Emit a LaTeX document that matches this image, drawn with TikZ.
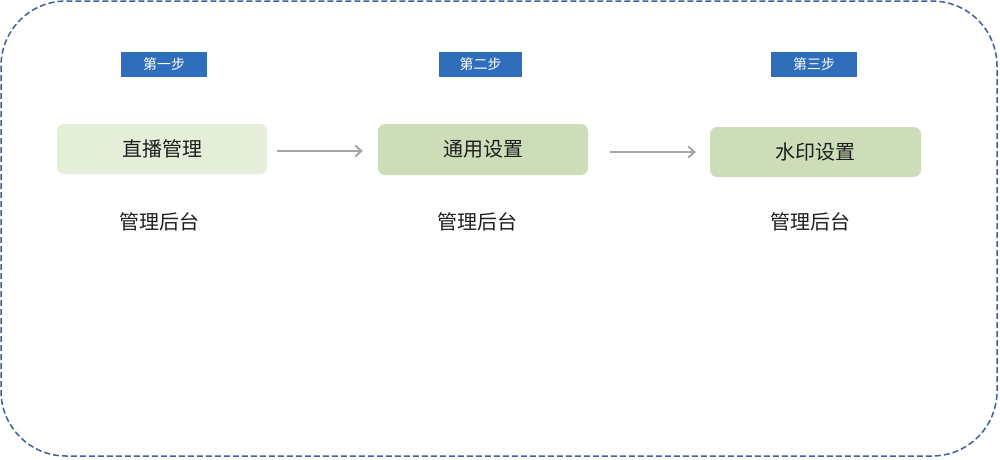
\documentclass[tikz,border=0pt]{standalone}
\usepackage{fontspec}
\setmainfont{Noto Sans CJK SC}
\usetikzlibrary{arrows.meta}
\definecolor{outline}{HTML}{3F5E9C}
\definecolor{stepblue}{HTML}{2F6EBA}
\definecolor{lightgreen}{HTML}{E4EED9}
\definecolor{midgreen}{HTML}{CCDDB8}
\definecolor{arrowgray}{HTML}{A6A6A6}
\definecolor{txt}{HTML}{1E1E1E}
\tikzset{
  steplabel/.style={fill=stepblue, text=white, font=\fontsize{14}{16}\selectfont, minimum width=85pt, minimum height=25pt, inner sep=0pt},
  stagebox/.style={rounded corners=7pt, text=txt, font=\fontsize{20}{24}\selectfont, minimum width=210pt, minimum height=50pt, inner sep=0pt},
  subtext/.style={text=txt, font=\fontsize{20}{24}\selectfont, inner sep=0pt},
  flowarrow/.style={draw=arrowgray, line width=2pt, -{Straight Barb[length=6pt,width=11pt]}}
}
\begin{document}
\begin{tikzpicture}[x=1pt,y=-1pt]
\useasboundingbox (0,0) rectangle (1000,459);
\draw[outline, line width=1.5pt, dash pattern=on 6pt off 3pt, rounded corners=65pt] (1,1) rectangle (997,456);

\node[steplabel, minimum width=86pt] (s1) at (164,64.5) {第一步};
\node[steplabel, minimum width=83pt] (s2) at (480.5,64.5) {第二步};
\node[steplabel, minimum width=86pt] (s3) at (814,64.5) {第三步};

\node[stagebox, fill=lightgreen] (b1) at (162,149) {直播管理};
\node[stagebox, fill=midgreen, minimum height=51pt] (b2) at (483,149.5) {通用设置};
\node[stagebox, fill=midgreen, minimum width=211pt] (b3) at (815.5,152) {水印设置};

\node[subtext] (t1) at (159,222) {管理后台};
\node[subtext] (t2) at (477,222) {管理后台};
\node[subtext] (t3) at (810,222) {管理后台};

\draw[flowarrow, shorten <=10pt, shorten >=15pt] ([yshift=-2pt]b1.east) -- ([yshift=-1.5pt]b2.west);
\draw[flowarrow, shorten <=22pt, shorten >=14pt] ([yshift=-2.5pt]b2.east) -- (b3.west);
\end{tikzpicture}
\end{document}
